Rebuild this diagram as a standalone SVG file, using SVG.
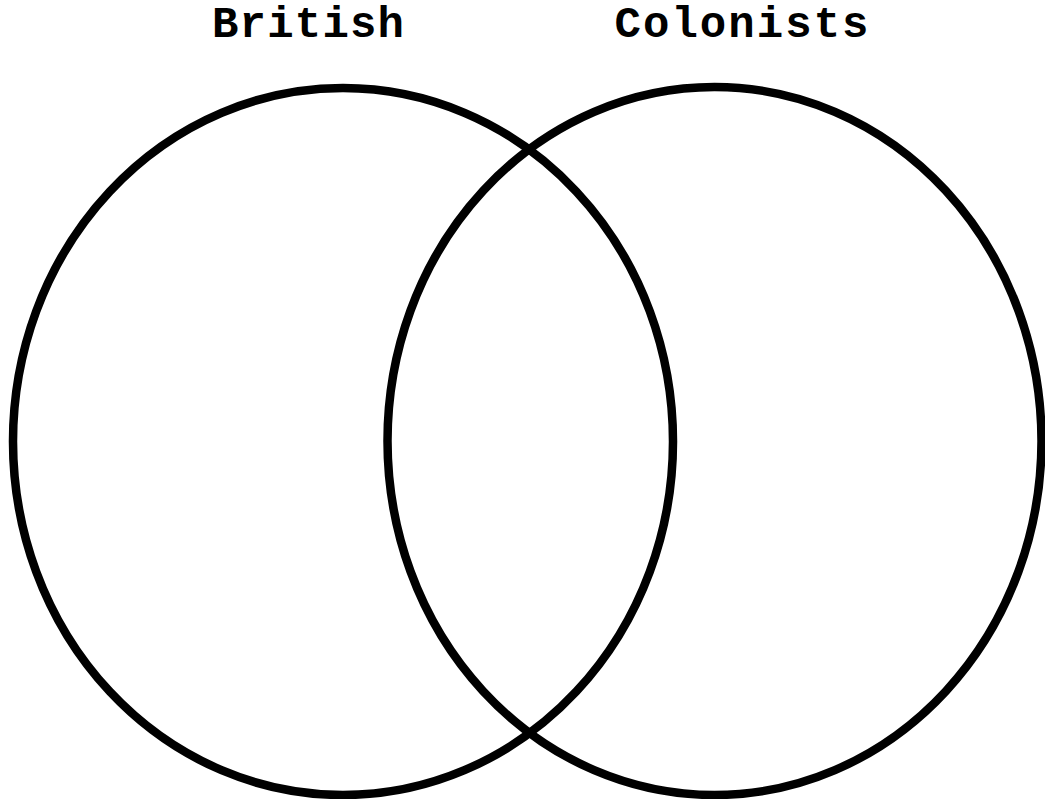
<svg xmlns="http://www.w3.org/2000/svg" width="1045" height="799" viewBox="0 0 1045 799">
<style>
.c{fill:none;stroke:#000;stroke-width:8.5}
.t{font-family:"Liberation Mono","Courier New",monospace;font-weight:bold;font-size:44px;fill:#000;text-anchor:middle}
</style>
<rect width="1045" height="799" fill="#fff"/>
<g id="british">
<ellipse class="c" cx="343" cy="441.5" rx="330" ry="353.5"/>
<text class="t" x="308" y="37" textLength="192" lengthAdjust="spacing">British</text>
</g>
<g id="colonists">
<ellipse class="c" cx="714.5" cy="441" rx="327" ry="354"/>
<text class="t" x="741.5" y="37" textLength="254" lengthAdjust="spacing">Colonists</text>
</g>
<g id="connectors"/>
</svg>
